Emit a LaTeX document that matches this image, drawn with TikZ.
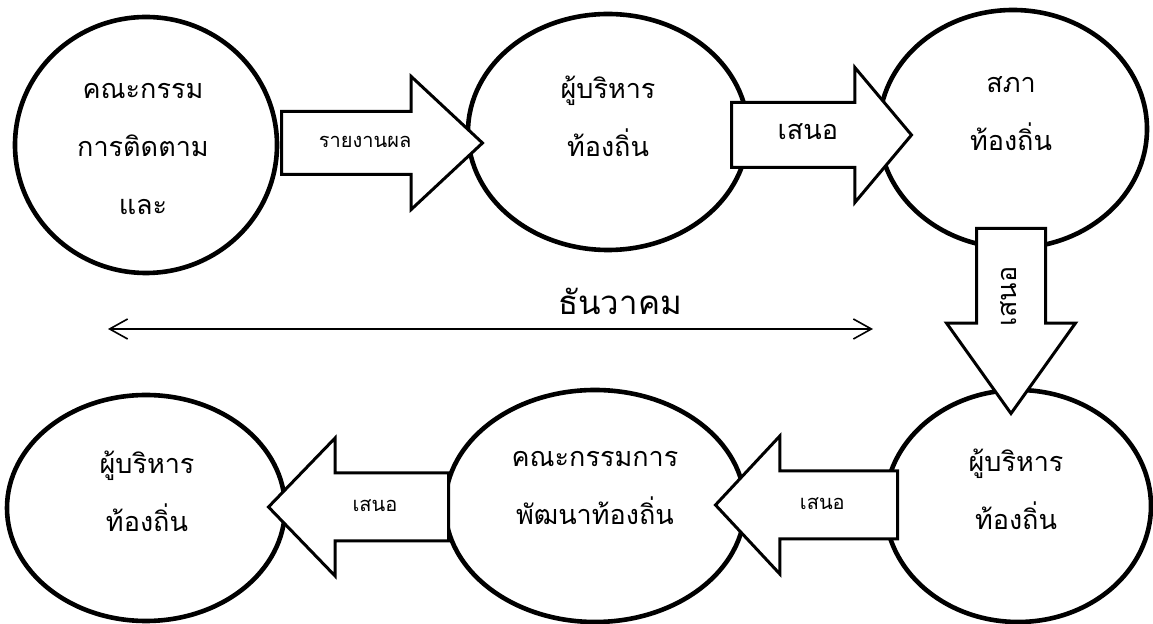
\documentclass[tikz,border=0pt]{standalone}
\usepackage{fontspec}
\newfontfamily\thaifont[Script=Thai]{Loma}
\usetikzlibrary{shapes.geometric}
\usetikzlibrary{shapes.arrows}
\usetikzlibrary{arrows.meta}

\tikzset{
  blob/.style={ellipse, draw, line width=2.3pt, inner sep=0pt},
  words/.style={font=\thaifont\fontsize{13.5}{29}\selectfont, align=center},
  bigarrow/.style={single arrow, draw, fill=white, line width=1.5pt, inner xsep=0pt,
    text height=7pt, text depth=2pt, single arrow head extend=17.5pt},
  smallword/.style={font=\thaifont\fontsize{10}{12}\selectfont},
  bigword/.style={font=\thaifont\fontsize{13.5}{15}\selectfont},
}

\begin{document}
\begin{tikzpicture}[x=0.5pt,y=-0.5pt]
		\useasboundingbox (0,0) rectangle (1153,624);
		
		% Draw the circles
		\node[blob, minimum width=131pt, minimum height=128pt] (c1) at (146,145) {};
		\node[blob, minimum width=140pt, minimum height=118pt] (c2) at (608,132) {};
		\node[blob, minimum width=134pt, minimum height=119pt] (c3) at (1013,129) {};
		\node[blob, minimum width=133pt, minimum height=116pt] (c4) at (1018,506) {};
		\node[blob, minimum width=150pt, minimum height=116pt] (c5) at (595,506) {};
		\node[blob, minimum width=139pt, minimum height=113pt] (c6) at (146,508) {};
		
		% Label the circles
		\node[words] (t1) at (143,149) {คณะกรรม\\การติดตาม\\และ};
		\node[words] (t2) at (608,116) {ผู้บริหาร\\ท้องถิ่น};
		\node[words] (t3) at (1011,114) {สภา\\ท้องถิ่น};
		\node[words] (t4) at (1016,489) {ผู้บริหาร\\ท้องถิ่น};
		\node[words] (t5) at (595,488) {คณะกรรมการ\\พัฒนาท้องถิ่น};
		\node[words] (t6) at (147,491) {ผู้บริหาร\\ท้องถิ่น};
		
		% The big arrows
		\node[bigarrow, smallword, anchor=tail, inner ysep=10.5pt, minimum height=100.5pt,
			single arrow tip angle=86] (a1) at (280,143) {รายงานผล};
		\node[bigarrow, bigword, anchor=tail, inner ysep=11pt, minimum height=90pt,
			single arrow tip angle=100] (a2) at (730,135) {เสนอ};
		\node[bigarrow, bigword, anchor=tail, rotate=90, shape border rotate=180,
			inner ysep=12pt, minimum height=92.5pt, single arrow head extend=15pt,
			single arrow tip angle=71] (a3) at (1011,227) {เสนอ};
		\node[bigarrow, smallword, anchor=tail, shape border rotate=180, inner ysep=11.75pt,
			minimum height=91pt, single arrow tip angle=94] (a4) at (899,505) {เสนอ};
		\node[bigarrow, smallword, anchor=tail, shape border rotate=180, inner ysep=11.75pt,
			minimum height=90pt, single arrow tip angle=92] (a5) at (450,507) {เสนอ};
		
		% The time line
		\coordinate (left end) at (108,329);
		\coordinate (right end) at (873,329);
		\draw[line width=0.8pt, {Straight Barb[length=9pt,width=10pt]}-{Straight Barb[length=9pt,width=10pt]}] (left end) -- (right end);
		\node[words, font=\thaifont\fontsize{16.5}{18}\selectfont] (month) at (620,301) {ธันวาคม};
	\end{tikzpicture}
\end{document}
